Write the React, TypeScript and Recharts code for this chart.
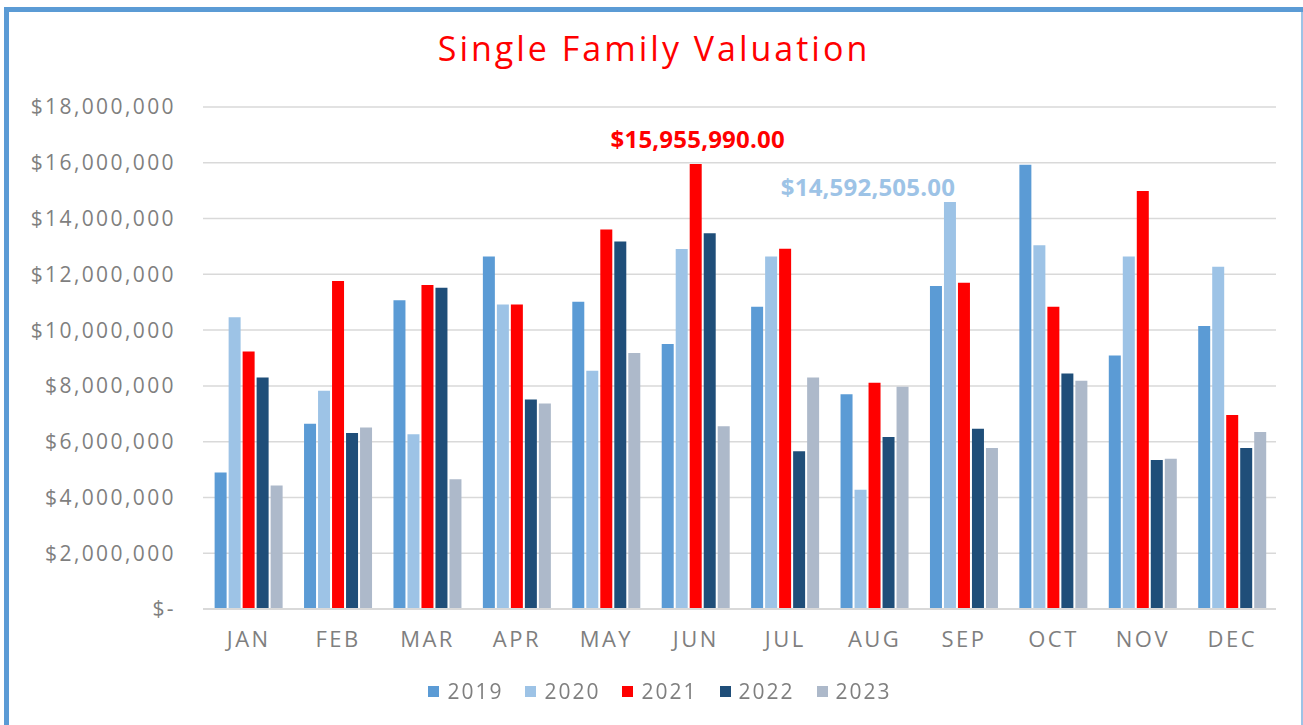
import { BarChart, Bar, XAxis, YAxis, CartesianGrid, Legend, LabelList } from "recharts";

const months = ["JAN", "FEB", "MAR", "APR", "MAY", "JUN", "JUL", "AUG", "SEP", "OCT", "NOV", "DEC"];

const v2019 = [4890000, 6640000, 11070000, 12640000, 11020000, 9500000, 10840000, 7700000, 11580000, 15930000, 9090000, 10150000];
const v2020 = [10460000, 7830000, 6270000, 10920000, 8540000, 12910000, 12640000, 4280000, 14592505, 13040000, 12640000, 12270000];
const v2021 = [9230000, 11760000, 11620000, 10920000, 13610000, 15955990, 12920000, 8110000, 11700000, 10840000, 14990000, 6960000];
const v2022 = [8300000, 6310000, 11520000, 7510000, 13180000, 13470000, 5660000, 6170000, 6460000, 8440000, 5340000, 5770000];
const v2023 = [4430000, 6510000, 4650000, 7370000, 9180000, 6550000, 8300000, 7970000, 5770000, 8180000, 5390000, 6350000];

const yTicks = [0, 2000000, 4000000, 6000000, 8000000, 10000000, 12000000, 14000000, 16000000, 18000000];

const series = [
  { key: "2019", color: "#5b9bd5" },
  { key: "2020", color: "#9dc3e6" },
  { key: "2021", color: "#ff0000" },
  { key: "2022", color: "#1f4e79" },
  { key: "2023", color: "#adb9ca" },
];

const rows = months.map((m, i) => ({
  month: m,
  "2019": v2019[i],
  "2020": v2020[i],
  "2021": v2021[i],
  "2022": v2022[i],
  "2023": v2023[i],
}));

const FONT = "'Open Sans', sans-serif";
const GREY = "#7f7f7f";

const money = (v: number) => (v === 0 ? "$-" : "$" + v.toLocaleString("en-US"));
const moneyCents = (v: number) =>
  "$" + v.toLocaleString("en-US", { minimumFractionDigits: 2, maximumFractionDigits: 2 });

// callout over the highest bar of a series
function peakLabel(values: number[], color: string, dx: number, dy: number) {
  const peak = Math.max(...values);
  return (props: any) => {
    const { x, y, width, value } = props;
    if (value !== peak) return null;
    return (
      <text
        x={Number(x) + Number(width) / 2 + dx}
        y={Number(y) + dy}
        textAnchor="middle"
        fill={color}
        fontFamily={FONT}
        fontWeight={700}
        fontSize={24}
        letterSpacing={0.2}
      >
        {moneyCents(value)}
      </text>
    );
  };
}

function LegendRow() {
  return (
    <div style={{ display: "flex", justifyContent: "center", gap: 22, fontFamily: FONT, fontSize: 21, color: GREY }}>
      {series.map((s) => (
        <div key={s.key} style={{ display: "flex", alignItems: "center", gap: 8 }}>
          <span style={{ width: 11, height: 11, background: s.color, display: "inline-block" }} />
          <span style={{ letterSpacing: 2 }}>{s.key}</span>
        </div>
      ))}
    </div>
  );
}

export default function App() {
  return (
    <div style={{ position: "fixed", left: 0, top: 0, width: 1303, height: 725, background: "#fff" }}>
      <div style={{ position: "absolute", left: 4, top: 7, width: 1299, height: 5, background: "#5b9bd5" }} />
      <div style={{ position: "absolute", left: 4, top: 7, width: 5, height: 718, background: "#5b9bd5" }} />
      <div style={{ position: "absolute", left: 1301, top: 12, width: 2, height: 713, background: "#9dc3e6" }} />
      <div
        style={{
          position: "absolute",
          left: 0,
          top: 25,
          width: 1308,
          textAlign: "center",
          fontFamily: FONT,
          fontSize: 34,
          letterSpacing: 3,
          color: "#ff0000",
        }}
      >
        Single Family Valuation
      </div>
      <BarChart
        width={1303}
        height={725}
        data={rows}
        margin={{ top: 107, right: 27, bottom: 86, left: 23 }}
        barCategoryGap="13%"
        barGap={2}
      >
        <CartesianGrid vertical={false} stroke="#d9d9d9" strokeWidth={1.5} />
        <XAxis
          dataKey="month"
          height={30}
          axisLine={{ stroke: "#d9d9d9", strokeWidth: 2 }}
          tickLine={false}
          tick={{ fill: GREY, fontSize: 22, fontFamily: FONT, letterSpacing: 2.5 }}
          dx={1}
          dy={14}
        />
        <YAxis
          width={180}
          domain={[0, 18000000]}
          ticks={yTicks}
          axisLine={false}
          tickLine={false}
          tickFormatter={money}
          tick={{ fill: GREY, fontSize: 21, fontFamily: FONT, letterSpacing: 2.4 }}
          dx={-19}
        />
        <Legend
          layout="horizontal"
          verticalAlign="middle"
          align="center"
          wrapperStyle={{ left: 0, top: 677, width: 1320 }}
          content={() => <LegendRow />}
        />
        {series.map((s) => (
          <Bar key={s.key} dataKey={s.key} fill={s.color} isAnimationActive={false}>
            {s.key === "2021" && <LabelList dataKey="2021" content={peakLabel(v2021, "#ff0000", 2, -16)} />}
            {s.key === "2020" && <LabelList dataKey="2020" content={peakLabel(v2020, "#9dc3e6", -82, -6)} />}
          </Bar>
        ))}
      </BarChart>
    </div>
  );
}
